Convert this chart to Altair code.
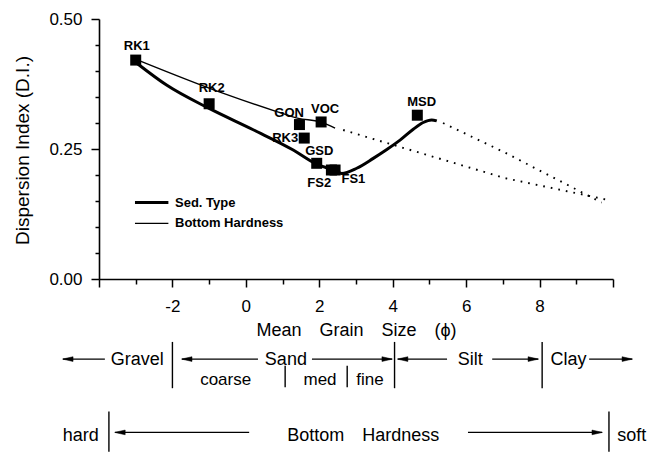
import altair as alt
import pandas as pd

FONT = "Liberation Sans"

# ---- sample sites (squares) ----
site_names = ["RK1", "RK2", "GON", "VOC", "RK3", "GSD", "FS2", "FS1", "MSD"]
site_x = [-3.0, -1.0, 1.46, 2.05, 1.59, 1.93, 2.33, 2.43, 4.67]
site_y = [0.421, 0.337, 0.297, 0.302, 0.271, 0.2225, 0.2096, 0.2096, 0.315]
label_x = [-2.97, -0.93, 1.18, 2.16, 1.07, 2.0, 2.0, 2.93, 4.79]
label_y = [0.448, 0.367, 0.319, 0.326, 0.271, 0.247, 0.185, 0.192, 0.341]

# ---- Sed. Type curve (thick) ----
sed_x = [-2.97, -2.16, -1.00, 0.20, 1.29, 1.88, 2.38, 2.61, 3.02, 3.47, 3.84, 4.20, 4.56, 4.83, 5.06, 5.20]
sed_y = [0.415, 0.373, 0.328, 0.287, 0.248, 0.2225, 0.2096, 0.203, 0.213, 0.232, 0.249, 0.267, 0.288, 0.301, 0.306, 0.304]

# ---- Bottom Hardness curve (thin) ----
hard_x = [-2.99, -0.61, 0.84, 1.43, 2.02, 2.43]
hard_y = [0.4225, 0.357, 0.322, 0.309, 0.3025, 0.290]

# ---- dotted extrapolations ----
dot_series = ["upper"] * 3 + ["lower"] * 3
dot_x = [5.37, 7.06, 9.69, 2.65, 7.06, 9.87]
dot_y = [0.300, 0.243, 0.147, 0.2865, 0.194, 0.152]

# ---- legend ----
leg_names = ["Sed. Type", "Bottom Hardness"]
leg_x = [-3.02, -3.02]
leg_x2 = [-2.11, -2.11]
leg_text_x = [-1.93, -1.93]
leg_y = [0.147, 0.107]
leg_width = [3.0, 1.4]

# ---- scale annotations below the axis ----
ann_text = ["Gravel", "Sand", "Silt", "Clay", "coarse", "med", "fine",
            "hard", "Bottom\u2003Hardness", "soft"]
ann_x = [-2.96, 1.09, 6.11, 8.79, -0.55, 2.02, 3.38, -4.50, 3.2, 10.51]
ann_y = [-0.156, -0.156, -0.156, -0.156, -0.194, -0.194, -0.194, -0.301, -0.301, -0.301]
ann_size = [18, 18, 18, 18, 17, 17, 17, 18, 18, 18]

arrow_x = [-4.98, -1.74, 1.80, 4.14, 6.71, 9.35, -3.56, 6.05]
arrow_x2 = [-3.84, 0.33, 3.98, 5.48, 7.96, 10.52, 0.09, 9.70]
arrow_y = [-0.154, -0.154, -0.154, -0.154, -0.154, -0.154, -0.295, -0.295]

head_left_x = [-4.85, -1.61, 4.27, -3.43]
head_left_y = [-0.154, -0.154, -0.154, -0.295]
head_right_x = [3.85, 7.83, 10.39, 9.57]
head_right_y = [-0.154, -0.154, -0.154, -0.295]

bar_x = [-2.0, 4.05, 8.07, 1.07, 2.76, -3.73, 9.89]
bar_y = [-0.121, -0.121, -0.121, -0.167, -0.167, -0.255, -0.255]
bar_y2 = [-0.210, -0.210, -0.210, -0.208, -0.208, -0.332, -0.332]

# ---------------------------------------------------------------
sites = pd.DataFrame({"name": site_names, "x": site_x, "y": site_y})
labels = pd.DataFrame({"name": site_names, "x": label_x, "y": label_y})
sed = pd.DataFrame({"x": sed_x, "y": sed_y})
hard = pd.DataFrame({"x": hard_x, "y": hard_y})
dots = pd.DataFrame({"s": dot_series, "x": dot_x, "y": dot_y})
leg = pd.DataFrame({"name": leg_names, "x": leg_x, "x2": leg_x2, "tx": leg_text_x,
                    "y": leg_y, "w": leg_width})
ann = pd.DataFrame({"t": ann_text, "x": ann_x, "y": ann_y, "fs": ann_size})
arrows = pd.DataFrame({"x": arrow_x, "x2": arrow_x2, "y": arrow_y})
hl = pd.DataFrame({"x": head_left_x, "y": head_left_y})
hr = pd.DataFrame({"x": head_right_x, "y": head_right_y})
bars = pd.DataFrame({"x": bar_x, "y": bar_y, "y2": bar_y2})

xscale = alt.Scale(domain=[-4, 10], nice=False, zero=False)
yscale = alt.Scale(domain=[0, 0.5], nice=False, zero=False)

xaxis = alt.Axis(
    values=list(range(-4, 11)),
    labelExpr="(datum.value % 2 == 0 && datum.value > -4 && datum.value < 10) ? ('' + datum.value) : ''",
    tickSize={"condition": {"test": "datum.value % 2 == 0", "value": 8}, "value": 5},
    labelPadding=11, labelFontSize=17, labelFont=FONT, labelColor="black",
    labelFlush=False, labelOverlap=False, labelBound=False,
    title="Mean\u2003Grain\u2003Size\u2003(\u03d5)", titleFont=FONT, titleFontSize=18,
    titleFontWeight="normal", titleColor="black", titleX=257, titleY=42,
    domainColor="black", domainWidth=1.6, tickColor="black", tickWidth=1.5, grid=False,
)
yaxis = alt.Axis(
    values=[0, 0.05, 0.1, 0.15, 0.2, 0.25, 0.3, 0.35, 0.4, 0.45, 0.5],
    labelExpr="abs(datum.value*4 - round(datum.value*4)) < 0.000001 ? format(datum.value, '.2f') : ''",
    tickSize={"condition": {"test": "abs(datum.value*4 - round(datum.value*4)) < 0.000001", "value": 8}, "value": 4},
    labelPadding=9, labelFontSize=17, labelFont=FONT, labelColor="black",
    labelFlush=False, labelOverlap=False, labelBound=False,
    title="Dispersion Index (D.I.)", titleFont=FONT, titleFontSize=19,
    titleFontWeight="normal", titleColor="black", titleX=-67, titleY=131,
    domainColor="black", domainWidth=1.6, tickColor="black", tickWidth=1.5, grid=False,
)


def X(field="x:Q"):
    return alt.X(field, scale=xscale, axis=xaxis)


def Y(field="y:Q"):
    return alt.Y(field, scale=yscale, axis=yaxis)


sed_line = alt.Chart(sed).mark_line(color="black", strokeWidth=3, interpolate="monotone").encode(
    x=X(), y=Y())
hard_line = alt.Chart(hard).mark_line(color="black", strokeWidth=1.4, interpolate="monotone").encode(
    x=X(), y=Y())
dot_lines = alt.Chart(dots).mark_line(color="black", strokeWidth=1.9, strokeDash=[1.7, 6]).encode(
    x=X(), y=Y(), detail="s:N")
squares = alt.Chart(sites).mark_square(size=121, color="black", opacity=1).encode(x=X(), y=Y())
site_labels = alt.Chart(labels).mark_text(font=FONT, fontWeight="bold", fontSize=13,
                                          align="center", baseline="middle", color="black").encode(
    x=X(), y=Y(), text="name:N")

leg_lines = alt.Chart(leg).mark_rule(color="black").encode(
    x=X(), x2="x2:Q", y=Y(), strokeWidth=alt.StrokeWidth("w:Q", scale=None))
leg_text = alt.Chart(leg).mark_text(font=FONT, fontWeight="bold", fontSize=13, align="left",
                                    baseline="middle", color="black").encode(
    x=X("tx:Q"), y=Y(), text="name:N")

ann_text_layer = alt.Chart(ann).mark_text(font=FONT, align="center", baseline="middle",
                                          color="black").encode(
    x=X(), y=Y(), text="t:N", size=alt.Size("fs:Q", scale=None, legend=None))
arrow_lines = alt.Chart(arrows).mark_rule(color="black", strokeWidth=1.4).encode(
    x=X(), x2="x2:Q", y=Y())
heads_left = alt.Chart(hl).mark_point(shape="M1,-0.45L-1,0L1,0.45Z", size=110, filled=True,
                                      fill="black", stroke="black", opacity=1,
                                      strokeWidth=0.5).encode(x=X(), y=Y())
heads_right = alt.Chart(hr).mark_point(shape="M-1,-0.45L1,0L-1,0.45Z", size=110, filled=True,
                                       fill="black", stroke="black", opacity=1,
                                       strokeWidth=0.5).encode(x=X(), y=Y())
bar_rules = alt.Chart(bars).mark_rule(color="black", strokeWidth=1.4).encode(
    x=X(), y=Y(), y2="y2:Q")

chart = alt.layer(
    sed_line, hard_line, dot_lines, squares, site_labels, leg_lines, leg_text,
    ann_text_layer, arrow_lines, heads_left, heads_right, bar_rules,
).properties(
    width=514, height=260,
    autosize=alt.AutoSizeParams(type="none"),
    padding={"left": 99, "top": 19, "right": 50, "bottom": 174},
    background="white",
).configure_view(stroke=None)

chart.save("out.html", embed_options={"renderer": "svg", "actions": False})
